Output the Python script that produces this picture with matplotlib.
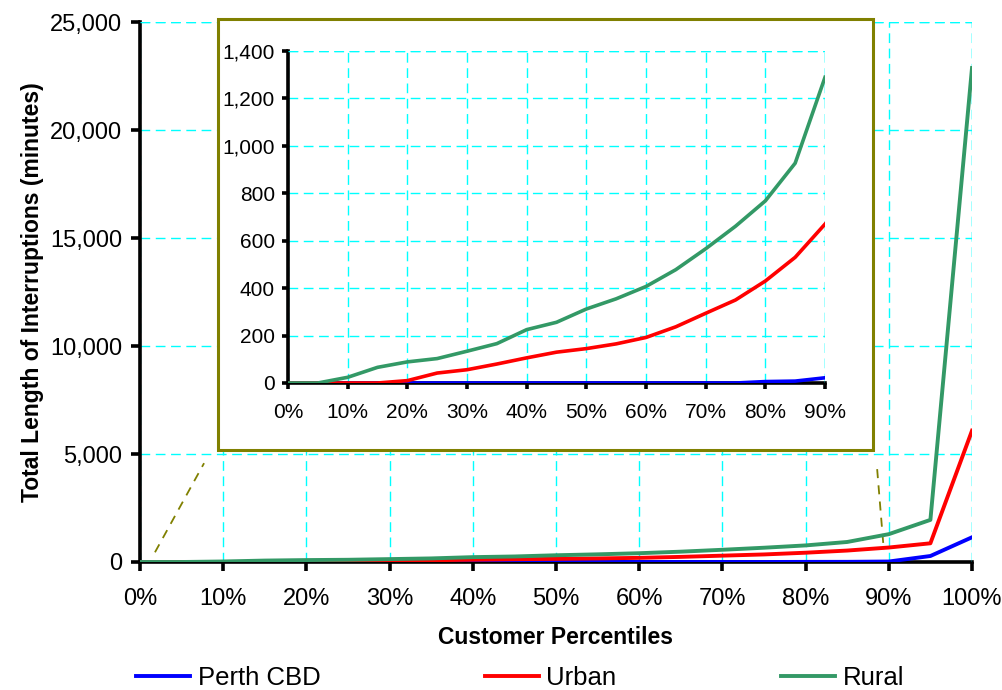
import matplotlib
matplotlib.use("Agg")
import matplotlib.pyplot as plt
from matplotlib.patches import Rectangle
from matplotlib.ticker import PercentFormatter, FuncFormatter, MultipleLocator

plt.rcParams['font.family'] = ['Liberation Sans', 'DejaVu Sans']

# customer percentiles (fraction)
pct = [0.00, 0.05, 0.10, 0.15, 0.20, 0.25, 0.30, 0.35, 0.40, 0.45, 0.50,
       0.55, 0.60, 0.65, 0.70, 0.75, 0.80, 0.85, 0.90, 0.95, 1.00]
# total length of interruptions (minutes)
perth = [0, 0, 0, 0, 0, 0, 0, 0, 0, 0, 0,
         0, 0, 0, 0, 0, 6, 8, 22, 278, 1144]
urban = [0, 0, 0, 0, 10, 42, 56, 80, 106, 130, 145,
         165, 192, 237, 294, 350, 430, 530, 670, 866, 6080]
rural = [0, 0, 24, 66, 89, 103, 134, 166, 225, 256, 312,
         355, 407, 478, 566, 661, 768, 927, 1289, 1950, 22870]
series = [("Perth CBD", perth, "#0000FF"),
          ("Urban", urban, "#FF0000"),
          ("Rural", rural, "#339966")]
n_inset = 19  # 0% .. 90%

W, H = 1003, 690
fig = plt.figure(figsize=(W / 100, H / 100), dpi=100)

def px(x0, y0, x1, y1):
    return [x0 / W, 1 - y1 / H, (x1 - x0) / W, (y1 - y0) / H]

grid_kw = dict(color="#00FFFF", linestyle=(0, (7, 4)), linewidth=1.0)
thousands = FuncFormatter(lambda v, p: f"{v:,.0f}")

def style_axes(ax, fs, length, xpad, ypad):
    for s in ["top", "right"]:
        ax.spines[s].set_visible(False)
    for s in ["left", "bottom"]:
        ax.spines[s].set_linewidth(2.6)
        ax.spines[s].set_zorder(1)
    ax.tick_params(direction="out", length=length, width=2.6, labelsize=fs)
    ax.tick_params(axis="x", pad=xpad)
    ax.tick_params(axis="y", pad=ypad)
    ax.grid(True, **grid_kw)
    ax.set_axisbelow(True)
    ax.xaxis.set_major_formatter(PercentFormatter(xmax=1, decimals=0))
    ax.yaxis.set_major_formatter(thousands)

# main chart
ax = fig.add_axes(px(140, 22, 972, 562))
for name, vals, col in series:
    ax.plot(pct, vals, color=col, lw=2.8, label=name, solid_joinstyle="round", zorder=3)
ax.set_xlim(0, 1)
ax.set_ylim(0, 25000)
ax.xaxis.set_major_locator(MultipleLocator(0.1))
ax.yaxis.set_major_locator(MultipleLocator(5000))
style_axes(ax, 17, 6.5, 12, 6.5)
ax.axvline(1.0, **grid_kw)
ax.axhline(25000, **grid_kw)
ax.set_xlabel("Customer Percentiles", fontsize=16.5, fontweight="bold", labelpad=12)
ax.set_ylabel("Total Length of Interruptions (minutes)", fontsize=16.5, fontweight="bold",
              labelpad=4)

# zoom leader lines
ax.plot([0.018, 0.077], [0.018, 0.183], transform=ax.transAxes, color="#808000",
        lw=1.3, ls=(0, (5, 4)), zorder=2)
ax.plot([0.886, 0.894], [0.172, 0.022], transform=ax.transAxes, color="#808000",
        lw=1.3, ls=(0, (5, 4)), zorder=2)

# inset frame
frame = Rectangle((218 / W, 1 - 450 / H), (873 - 218) / W, (450 - 19) / H,
                  transform=fig.transFigure, facecolor="white", edgecolor="#808000",
                  linewidth=2.2, zorder=5)
fig.patches.append(frame)

axi = fig.add_axes(px(288, 51, 825, 383))
axi.set_zorder(10)
for name, vals, col in series:
    axi.plot(pct[:n_inset], vals[:n_inset], color=col, lw=2.6, solid_joinstyle="round", zorder=3)
axi.set_xlim(0, 0.9)
axi.set_ylim(0, 1400)
axi.xaxis.set_major_locator(MultipleLocator(0.1))
axi.yaxis.set_major_locator(MultipleLocator(200))
style_axes(axi, 15, 4.5, 10, 5)
axi.axvline(0.9, **grid_kw)
axi.axhline(1400, **grid_kw)
axi.patch.set_alpha(0)

# legend
handles, labels = ax.get_legend_handles_labels()
fig.legend(handles, labels, loc="center", bbox_to_anchor=(520 / W, 1 - 678 / H), ncol=3,
           frameon=False, handlelength=2.1, handletextpad=0.3, columnspacing=6.4,
           prop={"size": 18.5})

fig.savefig("out.png", dpi=100)
